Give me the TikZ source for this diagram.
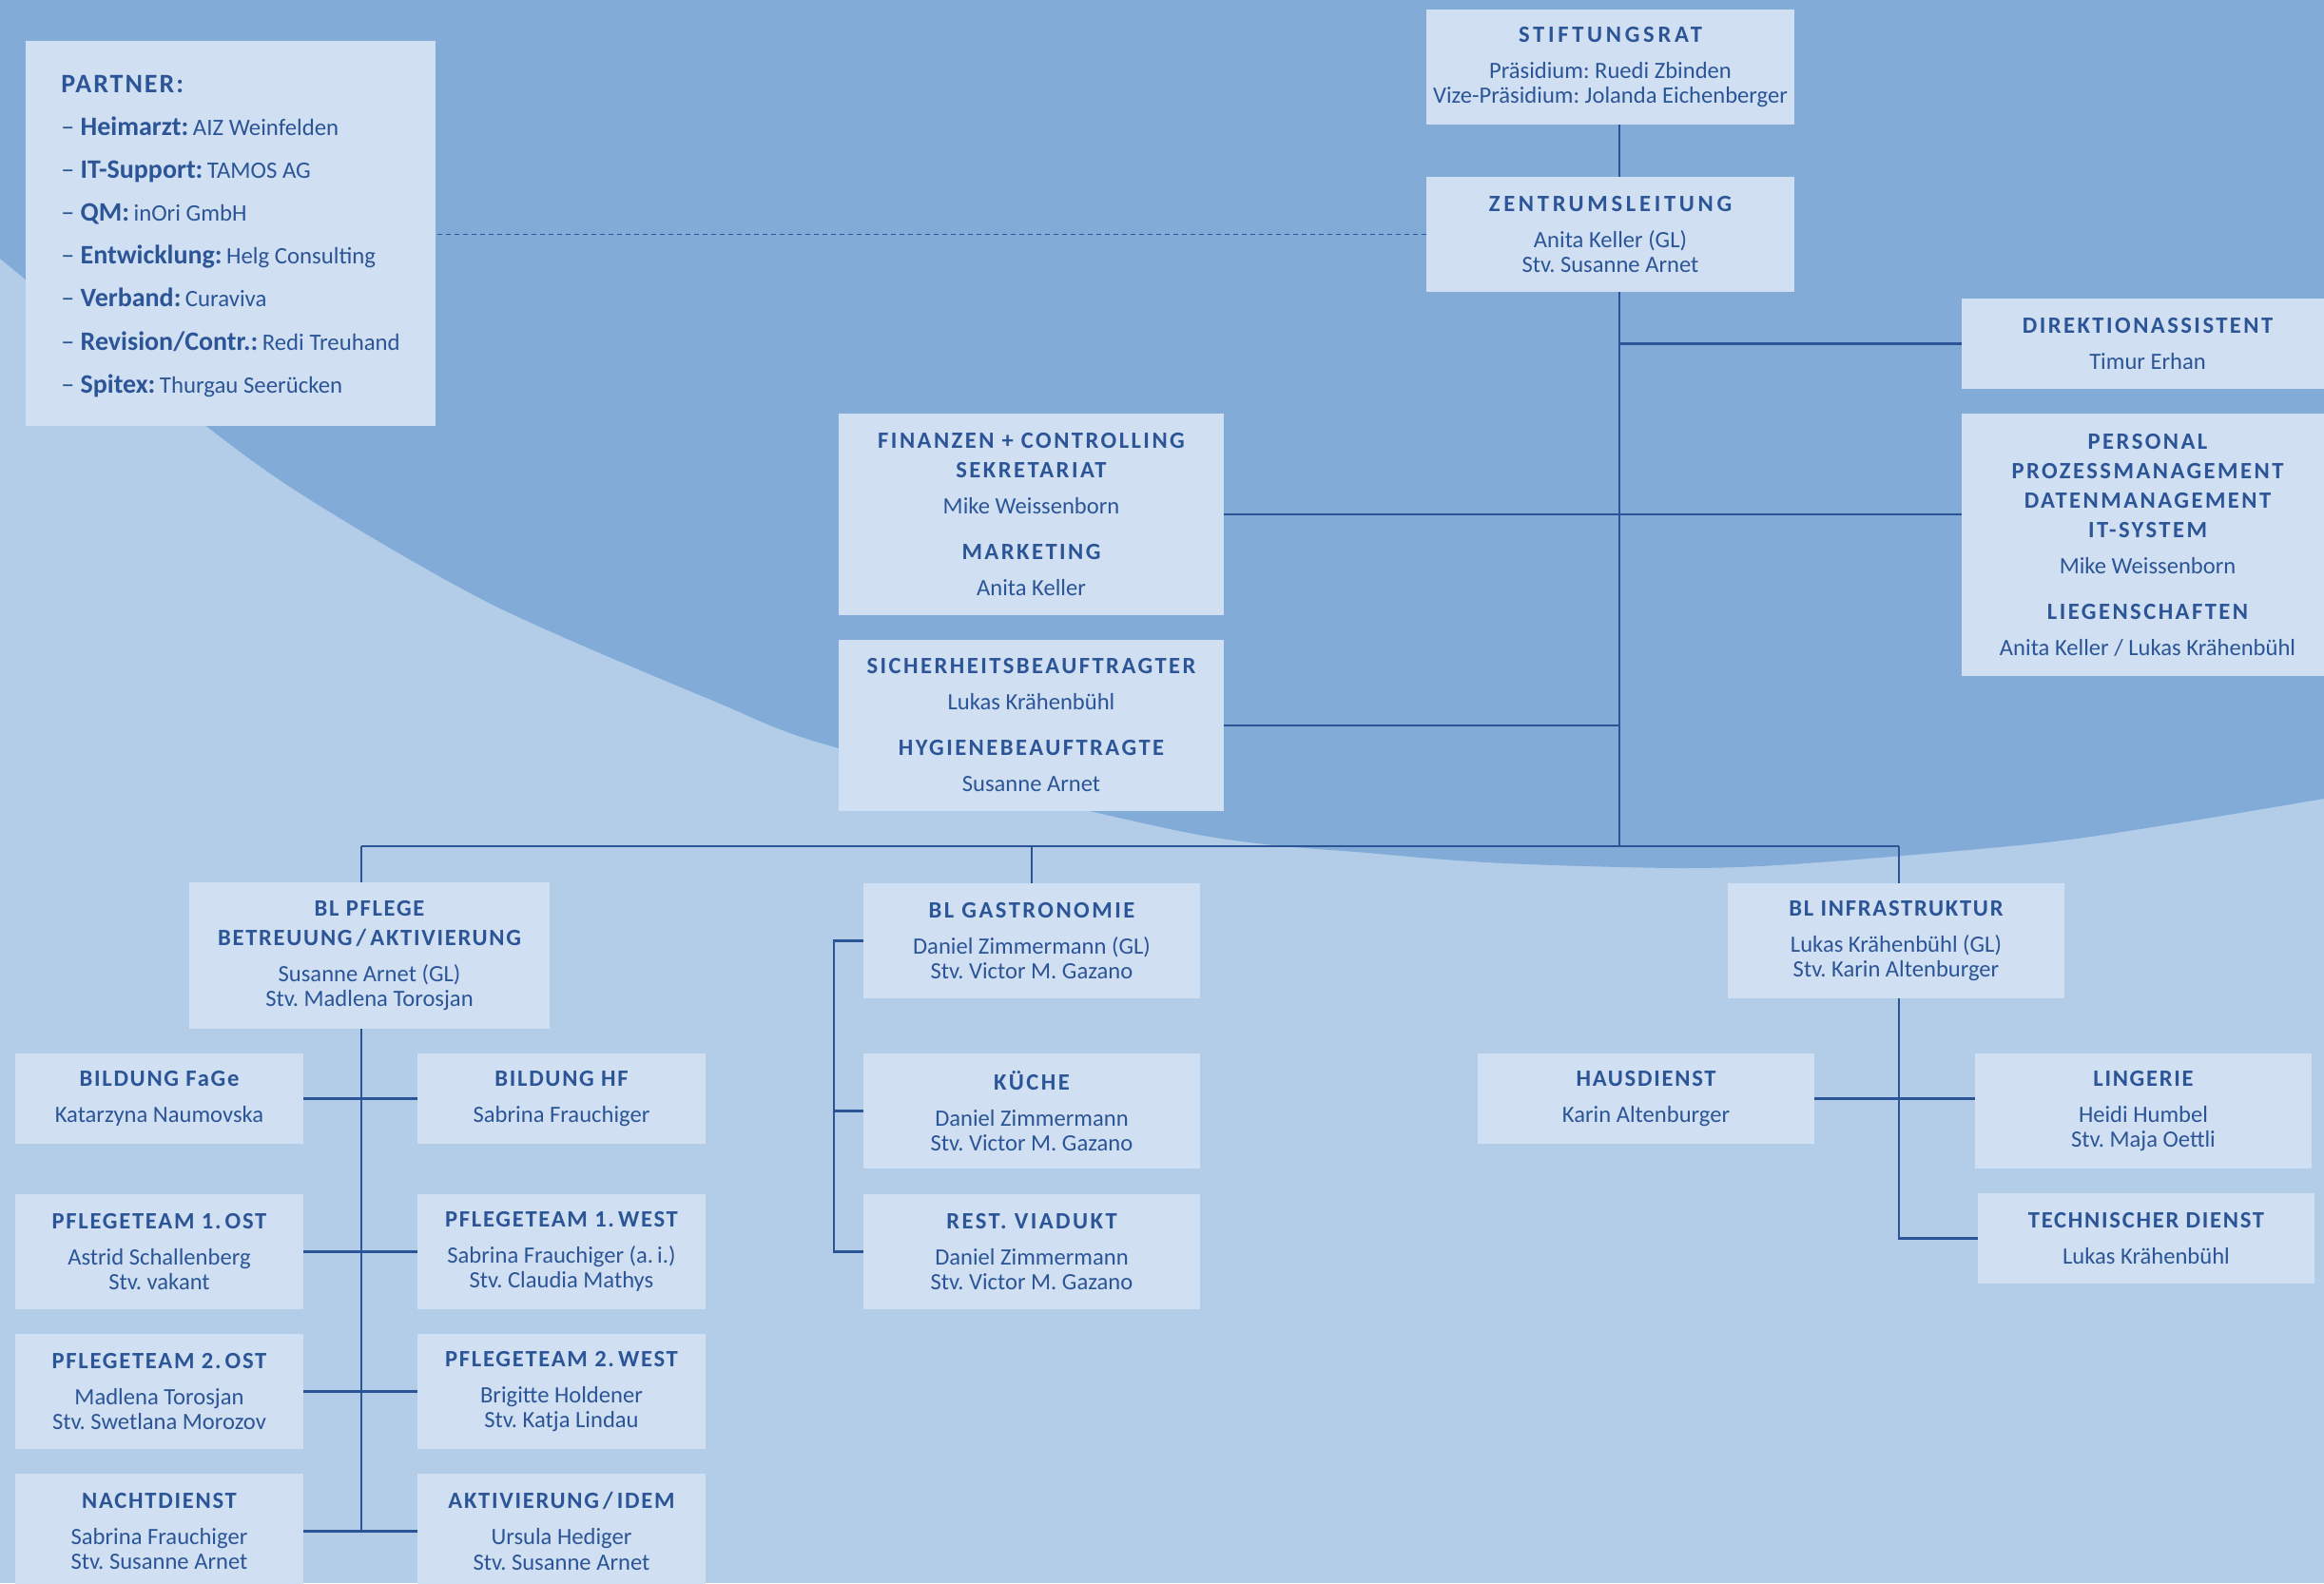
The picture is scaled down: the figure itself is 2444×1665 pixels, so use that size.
\documentclass[tikz,border=0pt]{standalone}
\usepackage{fontspec}
\setmainfont{Carlito}
\newfontfamily\hdAfont[LetterSpace=15]{Carlito}
\newfontfamily\hdBfont[LetterSpace=10]{Carlito}
\newfontfamily\hdPfont[LetterSpace=7]{Carlito}
\newfontfamily\ptfont[LetterSpace=7]{Carlito}
\definecolor{darkbg}{HTML}{82ACD7}
\definecolor{lightbg}{HTML}{B3CDE8}
\definecolor{boxc}{HTML}{D0DFF1}
\definecolor{txt}{HTML}{2B5597}
\frenchspacing
\newcommand\hdA[1]{{\hdAfont\bfseries #1}}
\newcommand\hdB[1]{{\hdBfont\bfseries #1}}
\newcommand\hdP[1]{{\hdPfont\bfseries #1}}
\newcommand\orgbox[6]{%
  \pgfmathsetmacro\obw{(#4-#2)*0.5}%
  \pgfmathsetmacro\obh{(#5-#3)*0.5}%
  \pgfmathsetmacro\obx{(#2+#4)/2}%
  \pgfmathsetmacro\oby{(#3+#5)/2}%
  \node[orgnode, minimum width=\obw pt, minimum height=\obh pt] (#1) at (\obx,\oby) {#6};}
\newcommand\plab[2]{{\fontsize{14}{14}\selectfont –\ \textbf{#1}}\ {\fontsize{12.4}{12.4}\selectfont #2}}
\tikzset{
  orgnode/.style={fill=boxc, inner sep=0pt, align=center, text=txt,
    font=\frenchspacing\fontsize{12.3}{13.25}\selectfont},
  link/.style={draw=txt, line width=1.1pt},
  dashlink/.style={draw=txt, line width=0.6pt, dash pattern=on 2.5pt off 2pt},
  ptext/.style={anchor=base west, inner sep=0pt, text=txt, font=\frenchspacing}
}
\begin{document}
\begin{tikzpicture}[x=0.5pt,y=-0.5pt]
\useasboundingbox (0,0) rectangle (2444,1665);
\clip (0,0) rectangle (2444,1665);
% background
\fill[lightbg] (0,0) rectangle (2444,1665);
\fill[darkbg] (0,0) -- plot[smooth] coordinates {(0,272) (218,449) (333,530) (520,637) (750,737) (882,787) (1250,876) (1450,898) (1583,908) (1770,913) (1900,908) (2143,887) (2282,867) (2444,840)} -- (2444,0) -- cycle;

% partner box
\orgbox{partner}{27}{43}{458}{448}{}
\node[ptext] (p0) at (64,97) {\fontsize{14}{14}\selectfont\ptfont\bfseries PARTNER:};
\node[ptext] (p1) at (64,142) {\plab{Heimarzt:}{AIZ Weinfelden}};
\node[ptext] (p2) at (64,187.2) {\plab{IT-Support:}{TAMOS AG}};
\node[ptext] (p3) at (64,232.4) {\plab{QM:}{inOri GmbH}};
\node[ptext] (p4) at (64,277.6) {\plab{Entwicklung:}{Helg Consulting}};
\node[ptext] (p5) at (64,322.8) {\plab{Verband:}{Curaviva}};
\node[ptext] (p6) at (64,368) {\plab{Revision/Contr.:}{Redi Treuhand}};
\node[ptext] (p7) at (64,413.2) {\plab{Spitex:}{Thurgau Seerücken}};

% top
\orgbox{stift}{1500}{10}{1887}{131}{\hdA{STIFTUNGSRAT}\\[5.75pt]Präsidium: Ruedi Zbinden\\Vize-Präsidium: Jolanda Eichenberger}
\orgbox{zentrum}{1500}{186}{1887}{307}{\hdA{ZENTRUMSLEITUNG}\\[5.75pt]Anita Keller (GL)\\Stv. Susanne Arnet}
\orgbox{direk}{2063}{314}{2454}{409}{\hdB{DIREKTIONASSISTENT}\\[5.75pt]Timur Erhan}
\orgbox{personal}{2063}{435}{2454}{711}{\hdB{PERSONAL}\\[2.25pt]\hdB{PROZESSMANAGEMENT}\\[2.25pt]\hdB{DATENMANAGEMENT}\\[2.25pt]\hdB{IT-SYSTEM}\\[5.75pt]Mike Weissenborn\\[10.75pt]\hdB{LIEGENSCHAFTEN}\\[5.75pt]Anita Keller / Lukas Krähenbühl}
\orgbox{finanz}{882}{435}{1287}{647}{\hdB{FINANZEN + CONTROLLING}\\[2.25pt]\hdB{SEKRETARIAT}\\[5.75pt]Mike Weissenborn\\[10.75pt]\hdB{MARKETING}\\[5.75pt]Anita Keller}
\orgbox{sicher}{882}{673}{1287}{853}{\hdB{SICHERHEITSBEAUFTRAGTER}\\[5.75pt]Lukas Krähenbühl\\[10.75pt]\hdB{HYGIENEBEAUFTRAGTE}\\[5.75pt]Susanne Arnet}

% Pflege
\orgbox{pflege}{199}{928}{578}{1082}{\hdP{BL PFLEGE}\\[2.25pt]\hdP{BETREUUNG\,/\,AKTIVIERUNG}\\[5.75pt]Susanne Arnet (GL)\\Stv. Madlena Torosjan}
\orgbox{fage}{16}{1108}{319}{1203}{\hdP{BILDUNG FaGe}\\[5.75pt]Katarzyna Naumovska}
\orgbox{hf}{439}{1108}{742}{1203}{\hdP{BILDUNG HF}\\[5.75pt]Sabrina Frauchiger}
\orgbox{ost1}{16}{1256}{319}{1377}{\hdP{PFLEGETEAM 1.\,OST}\\[5.75pt]Astrid Schallenberg\\Stv. vakant}
\orgbox{west1}{439}{1256}{742}{1377}{\hdP{PFLEGETEAM 1.\,WEST}\\[5.75pt]Sabrina Frauchiger (a.\,i.)\\Stv. Claudia Mathys}
\orgbox{ost2}{16}{1403}{319}{1524}{\hdP{PFLEGETEAM 2.\,OST}\\[5.75pt]Madlena Torosjan\\Stv. Swetlana Morozov}
\orgbox{west2}{439}{1403}{742}{1524}{\hdP{PFLEGETEAM 2.\,WEST}\\[5.75pt]Brigitte Holdener\\Stv. Katja Lindau}
\orgbox{nacht}{16}{1550}{319}{1671}{\hdP{NACHTDIENST}\\[5.75pt]Sabrina Frauchiger\\Stv. Susanne Arnet}
\orgbox{aktiv}{439}{1550}{742}{1671}{\hdP{AKTIVIERUNG\,/\,IDEM}\\[5.75pt]Ursula Hediger\\Stv. Susanne Arnet}

% Gastronomie
\orgbox{gastro}{908}{929}{1262}{1050}{\hdB{BL GASTRONOMIE}\\[5.75pt]Daniel Zimmermann (GL)\\Stv. Victor M. Gazano}
\orgbox{kueche}{908}{1108}{1262}{1229}{\hdB{KÜCHE}\\[5.75pt]Daniel Zimmermann\\Stv. Victor M. Gazano}
\orgbox{rest}{908}{1256}{1262}{1377}{\hdB{REST. VIADUKT}\\[5.75pt]Daniel Zimmermann\\Stv. Victor M. Gazano}

% Infrastruktur
\orgbox{infra}{1817}{929}{2171}{1050}{\hdP{BL INFRASTRUKTUR}\\[5.75pt]Lukas Krähenbühl (GL)\\Stv. Karin Altenburger}
\orgbox{haus}{1554}{1108}{1908}{1203}{\hdP{HAUSDIENST}\\[5.75pt]Karin Altenburger}
\orgbox{lingerie}{2077}{1108}{2431}{1229}{\hdP{LINGERIE}\\[5.75pt]Heidi Humbel\\Stv. Maja Oettli}
\orgbox{tech}{2080}{1255}{2434}{1350}{\hdP{TECHNISCHER DIENST}\\[5.75pt]Lukas Krähenbühl}

% helper coordinates
\coordinate (spine) at (1703,0);
\coordinate (busL) at (380,890);
\coordinate (busR) at (1997,890);
\coordinate (gv) at (877,0);

% connectors
\draw[dashlink] (zentrum.west) -- (zentrum.west -| partner.east);
\draw[link] (stift.south -| spine) -- (zentrum.north -| spine);
\draw[link] (zentrum.south -| spine) -- (spine |- busL);
\draw[link] (busL) -- (busR);
\draw[link] (direk.west) -- (direk.west -| spine);
\draw[link] (finanz.east) -- (finanz.east -| personal.west);
\draw[link] (sicher.east) -- (sicher.east -| spine);
\draw[link] (busL) -- (busL |- pflege.north);
\draw[link] (gastro.north) -- (gastro.north |- busL);
\draw[link] (busR) -- (busR |- infra.north);
\draw[link] (pflege.south -| busL) -- (busL |- nacht.east);
\draw[link] (fage.east) -- (hf.west);
\draw[link] (ost1.east) -- (west1.west);
\draw[link] (ost2.east) -- (west2.west);
\draw[link] (nacht.east) -- (aktiv.west);
\draw[link] (gastro.west) -- (gastro.west -| gv) |- (rest.west);
\draw[link] (kueche.west) -- (kueche.west -| gv);
\draw[link] (infra.south -| busR) |- (tech.west);
\draw[link] (haus.east) -- (haus.east -| lingerie.west);
\end{tikzpicture}
\end{document}
